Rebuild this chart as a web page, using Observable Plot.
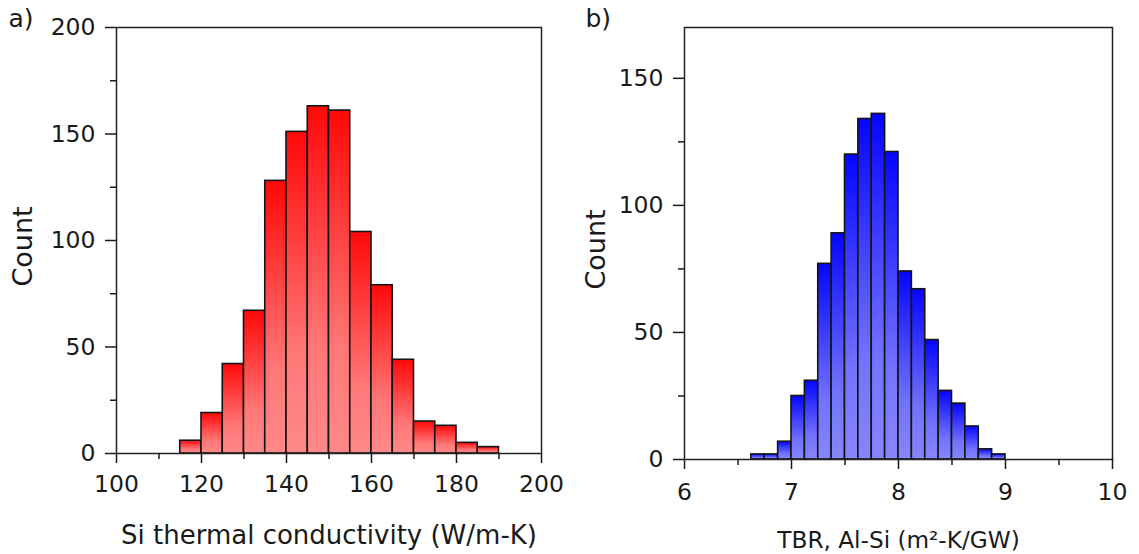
<!DOCTYPE html>
<html><head><meta charset="utf-8">
<script src="https://cdn.jsdelivr.net/npm/d3@7"></script>
<script src="https://cdn.jsdelivr.net/npm/@observablehq/plot@0.6"></script>
<style>
body{margin:0;background:#fff;}
#wrap{display:flex;width:1139px;height:554px;}
</style></head><body><div id="wrap"></div>
<script>
// Panel a) Si thermal conductivity histogram
const siEdges = [115,120,125,130,135,140,145,150,155,160,165,170,175,180,185,190];
const siCounts = [6,19,42,67,128,151,163,161,104,79,44,15,13,5,3];
const siTicks = [100,120,140,160,180,200];
const siMinorTicks = [110,130,150,170,190];
const countTicksA = [0,50,100,150,200];
const countMinorA = [25,75,125,175];

// Panel b) TBR Al-Si histogram
const tbrEdges = [6.625,6.75,6.875,7,7.125,7.25,7.375,7.5,7.625,7.75,7.875,8,8.125,8.25,8.375,8.5,8.625,8.75,8.875,9];
const tbrCounts = [2,2,7,25,31,77,89,120,134,136,121,74,67,47,27,22,13,4,2];
const tbrTicks = [6,7,8,9,10];
const tbrMinorTicks = [6.5,7.5,8.5,9.5];
const countTicksB = [0,50,100,150];
const countMinorB = [25,75,125];

const FONT = "DejaVu Sans";

function gradDefs(id, stops) {
  return () => {
    const defs = d3.create("svg:defs");
    const g = defs.append("linearGradient").attr("id", id)
      .attr("x1", 0).attr("y1", 0).attr("x2", 0).attr("y2", 1);
    for (const [off, col] of stops) g.append("stop").attr("offset", off).attr("stop-color", col);
    return defs.node();
  };
}

function panel(o) {
  const data = o.counts.map((c, i) => ({x1: o.edges[i], x2: o.edges[i + 1], count: c}));
  return Plot.plot({
    width: o.width, height: 554,
    marginLeft: o.ml, marginRight: o.mr, marginTop: 27, marginBottom: o.mb,
    style: {fontFamily: FONT, fontSize: "23px", color: "#1a1a1a", background: "white", overflow: "visible"},
    x: {domain: o.xDomain, label: null},
    y: {domain: o.yDomain, label: null},
    marks: [
      gradDefs(o.gradId, o.stops),
      Plot.rect(data, {x1: "x1", x2: "x2", y1: 0, y2: "count", fill: `url(#${o.gradId})`, stroke: "#151515", strokeWidth: 1.6}),
      Plot.frame({stroke: "#222", strokeWidth: 1.5}),
      Plot.axisX(o.xTicks, {tickSize: 10, tickPadding: o.xPad, strokeWidth: 1.5, label: null, fontSize: 23.5}),
      Plot.axisX(o.xMinor, {tickSize: 6, tickFormat: () => "", strokeWidth: 1.5, label: null}),
      Plot.axisY(o.yTicks, {tickSize: 11, tickPadding: 10, strokeWidth: 1.5, label: null, fontSize: 23.5}),
      Plot.axisY(o.yMinor, {tickSize: 6, tickFormat: () => "", strokeWidth: 1.5, label: null}),
      Plot.text([o.xLabel], {text: d => d, frameAnchor: "bottom", dy: o.xLabelDy, textAnchor: "middle", lineAnchor: "middle", fontSize: o.xLabelSize}),
      Plot.text(["Count"], {text: d => d, frameAnchor: "left", rotate: -90, dx: o.yLabelDx, dy: 6, textAnchor: "middle", lineAnchor: "middle", fontSize: 27}),
      Plot.text([o.tag], {text: d => d, frameAnchor: "top-left", dx: o.tagDx, dy: -9, textAnchor: "start", lineAnchor: "middle", fontSize: 25})
    ]
  });
}

const wrap = document.getElementById("wrap");
wrap.append(panel({
  edges: siEdges, counts: siCounts, xDomain: [100, 200], yDomain: [0, 200],
  xTicks: siTicks, xMinor: siMinorTicks, yTicks: countTicksA, yMinor: countMinorA,
  gradId: "gradRed", stops: [["0%", "#ff0808"], ["70%", "#ff7878"], ["100%", "#ff8888"]],
  xLabel: "Si thermal conductivity (W/m-K)", xLabelSize: 26, tag: "a)",
  width: 570, ml: 116, mr: 29, mb: 101, xPad: 12, xLabelDy: 82, yLabelDx: -93, tagDx: -108
}));
wrap.append(panel({
  edges: tbrEdges, counts: tbrCounts, xDomain: [6, 10], yDomain: [0, 170],
  xTicks: tbrTicks, xMinor: tbrMinorTicks, yTicks: countTicksB, yMinor: countMinorB,
  gradId: "gradBlue", stops: [["0%", "#0505ff"], ["70%", "#7272ff"], ["100%", "#8686ff"]],
  xLabel: "TBR, Al-Si (m²-K/GW)", xLabelSize: 23.2, tag: "b)",
  width: 569, ml: 114, mr: 27, mb: 95, xPad: 14, xLabelDy: 81, yLabelDx: -88, tagDx: -99
}));
</script>
</body></html>
